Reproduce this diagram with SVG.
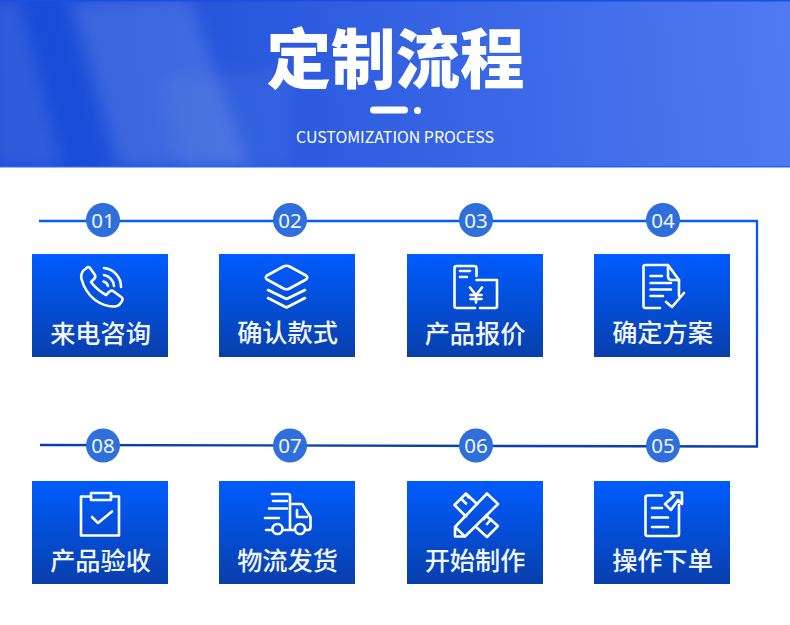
<svg xmlns="http://www.w3.org/2000/svg" width="790" height="625" viewBox="0 0 790 625">
<style>
.box{fill:url(#boxA)}
.box2{fill:url(#boxB)}
.num{font:400 20.5px "Noto Sans","Liberation Sans",sans-serif;fill:#f2f6ff;text-anchor:middle}
.lab{font:500 25.2px "Noto Sans CJK SC",sans-serif;fill:#f2f5fd;text-anchor:middle}
.ic{fill:none;stroke:#fff;stroke-width:2.6;stroke-linecap:round;stroke-linejoin:round}
.dot{fill:#2f6fdc}
</style>
<defs>
<linearGradient id="boxA" gradientUnits="userSpaceOnUse" x1="0" y1="254" x2="0" y2="357"><stop offset="0" stop-color="#005cff"/><stop offset="1" stop-color="#083fab"/></linearGradient>
<linearGradient id="boxB" gradientUnits="userSpaceOnUse" x1="0" y1="481" x2="0" y2="584"><stop offset="0" stop-color="#005cff"/><stop offset="1" stop-color="#083fab"/></linearGradient>
<linearGradient id="hdr" gradientUnits="userSpaceOnUse" x1="0" y1="120" x2="790" y2="40"><stop offset="0" stop-color="#1548d6"/><stop offset="0.3" stop-color="#2757dc"/><stop offset="1" stop-color="#4f7af2"/></linearGradient>
<linearGradient id="wire" gradientUnits="userSpaceOnUse" x1="0" y1="221" x2="0" y2="447"><stop offset="0" stop-color="#005cff"/><stop offset="1" stop-color="#0a3fae"/></linearGradient>
<filter id="soft" x="-30%" y="-30%" width="160%" height="160%"><feGaussianBlur stdDeviation="8"/></filter>
</defs>
<rect width="790" height="625" fill="#fff"/>
<g id="header">
<rect width="790" height="167" fill="url(#hdr)"/>
<g filter="url(#soft)" fill="#fff">
<polygon points="-10,0 20,0 62,167 -10,167" opacity="0.1"/>
<polygon points="70,0 190,0 250,167 118,167" opacity="0.13"/>
<polygon points="160,80 290,70 290,167 180,167" opacity="0.05"/>
</g>
<rect width="790" height="1.500" fill="#1a4fe0"/>
<rect y="166" width="790" height="1.500" fill="#2a62ee"/>
<text x="395.500" y="83" text-anchor="middle" style="font:900 64.500px 'Noto Sans CJK SC',sans-serif" fill="#fff">定制流程</text>
<rect x="370" y="106.500" width="38" height="7" rx="3.500" fill="#fff"/>
<circle cx="417.500" cy="110.500" r="3.500" fill="#fff"/>
<text x="395" y="143" text-anchor="middle" textLength="198" lengthAdjust="spacingAndGlyphs" style="font:400 16px 'Noto Sans CJK SC',sans-serif" fill="#fff">CUSTOMIZATION PROCESS</text>
</g>
<g id="connectors">
<polyline points="39,221 757,221 757,446.500 40,445" fill="none" stroke="url(#wire)" stroke-width="2.300"/>
</g>
<g id="step-01">
<circle class="dot" cx="103" cy="220" r="17"/><text class="num" x="103" y="227.500">01</text>
<rect class="box" x="32" y="254" width="136" height="103"/>
<path class="ic" d="M86 268.500Q80 272 81.500 279Q85 292 95 300Q105 307 115 306.500Q120 306 122.500 300Q123 298 120.500 296.500L113 291Q111 290 109 292L106 295Q97 290 91 282L94 279Q96 277 95 275L90 268Q88 266 86 268.500Z"/>
<path class="ic" d="M104 268A19 19 0 0 1 121 287M104 275A12 12 0 0 1 114 286M103.500 281.500A6 6 0 0 1 108 286"/>
<text class="lab" x="100.500" y="343">来电咨询</text>
</g>
<g id="step-02">
<circle class="dot" cx="290" cy="220" r="17"/><text class="num" x="290" y="227.500">02</text>
<rect class="box" x="219" y="254" width="136" height="103"/>
<path class="ic" d="M283.500 266.500Q286.500 265 289.500 266.500L306 275.500Q308.500 277.500 306 279.500L289.500 288.500Q286.500 290 283.500 288.500L267 279.500Q264.500 277.500 267 275.500Z"/>
<path class="ic" d="M268 290L286.500 299L305 290M268 298L286.500 307.500L305 298"/>
<text class="lab" x="287.500" y="342">确认款式</text>
</g>
<g id="step-03">
<circle class="dot" cx="476" cy="220" r="17"/><text class="num" x="476" y="227.500">03</text>
<rect class="box" x="407" y="254" width="136" height="103"/>
<path class="ic" d="M476.500 276V268Q476.500 266 474 266H456.500Q454.500 266 454.500 268V306Q454.500 308 456.500 308H475"/>
<path class="ic" d="M476.500 280H497V306Q497 308 495 308H480"/>
<path class="ic" d="M460 271H470M460 277H467M470 287.500L476 295L482 287.500M476 295V302.500M470.500 295H481.500M470.500 299H481.500"/>
<text class="lab" x="475" y="343">产品报价</text>
</g>
<g id="step-04">
<circle class="dot" cx="663" cy="220" r="17"/><text class="num" x="663" y="227.500">04</text>
<rect class="box" x="594" y="254" width="136" height="103"/>
<path class="ic" d="M660 308H645.500Q643.500 308 643.500 306V267Q643.500 265 645.500 265H668L679 280V296"/>
<path class="ic" d="M668 265V276Q668 280 672 280H679"/>
<path class="ic" d="M650.500 276H662M650.500 283H671M650.500 289.500H671M650.500 296H663"/>
<path class="ic" d="M666 302L672 307L684 293"/>
<text class="lab" x="662.500" y="342">确定方案</text>
</g>
<g id="step-05">
<circle class="dot" cx="663" cy="445.500" r="17"/><text class="num" x="663" y="453">05</text>
<rect class="box2" x="594" y="481" width="136" height="103"/>
<path class="ic" d="M662 495.500H647.500Q645.500 495.500 645.500 497.500V534Q645.500 536 647.500 536H677Q679 536 679 534V505"/>
<path class="ic" d="M652 508H662M652 517.500H668M652 527H668"/>
<path class="ic" d="M671 492.500H682V504L678 500L671 510L665 504L674 496Z"/>
<text class="lab" x="662.500" y="569.500">操作下单</text>
</g>
<g id="step-06">
<circle class="dot" cx="476" cy="445.500" r="17"/><text class="num" x="476" y="453">06</text>
<rect class="box2" x="407" y="481" width="136" height="103"/>
<path class="ic" d="M455 536.500V527L487 493.500L498 504L465 536.500ZM455 527L465 536.500"/>
<path class="ic" d="M466 516.500L454.500 505L466 493.500L477 504"/>
<path class="ic" d="M486 515.500L498 526L487 537L476 527"/>
<path class="ic" d="M461.500 499L466 503.500M466.500 495L469 497.500M491 519.500L487 524M487 515.500L484 519"/>
<text class="lab" x="475" y="569.500">开始制作</text>
</g>
<g id="step-07">
<circle class="dot" cx="290" cy="445.500" r="17"/><text class="num" x="290" y="453">07</text>
<rect class="box2" x="219" y="481" width="136" height="103"/>
<path class="ic" d="M272 494H288Q290 494 290 496V529M284 530H294M292.500 504H302L310.500 517V527Q310.500 530 308 530H306"/>
<path class="ic" d="M297 510V517H307"/>
<circle class="ic" cx="277.500" cy="529" r="5"/><circle class="ic" cx="300" cy="529" r="5"/>
<path class="ic" d="M273 501H287M269 508.500H287M265 518H279M266 530H272"/>
<text class="lab" x="287.500" y="569.500">物流发货</text>
</g>
<g id="step-08">
<circle class="dot" cx="103" cy="445.500" r="17"/><text class="num" x="103" y="453">08</text>
<rect class="box2" x="32" y="481" width="136" height="103"/>
<path class="ic" d="M91 496.500H81V535.500H119V496.500H111" stroke-linecap="butt" stroke-linejoin="miter"/>
<rect class="ic" x="91" y="493" width="20" height="7"/>
<path class="ic" d="M92 517L98 523L112 511.500"/>
<text class="lab" x="100.500" y="570">产品验收</text>
</g>
</svg>
